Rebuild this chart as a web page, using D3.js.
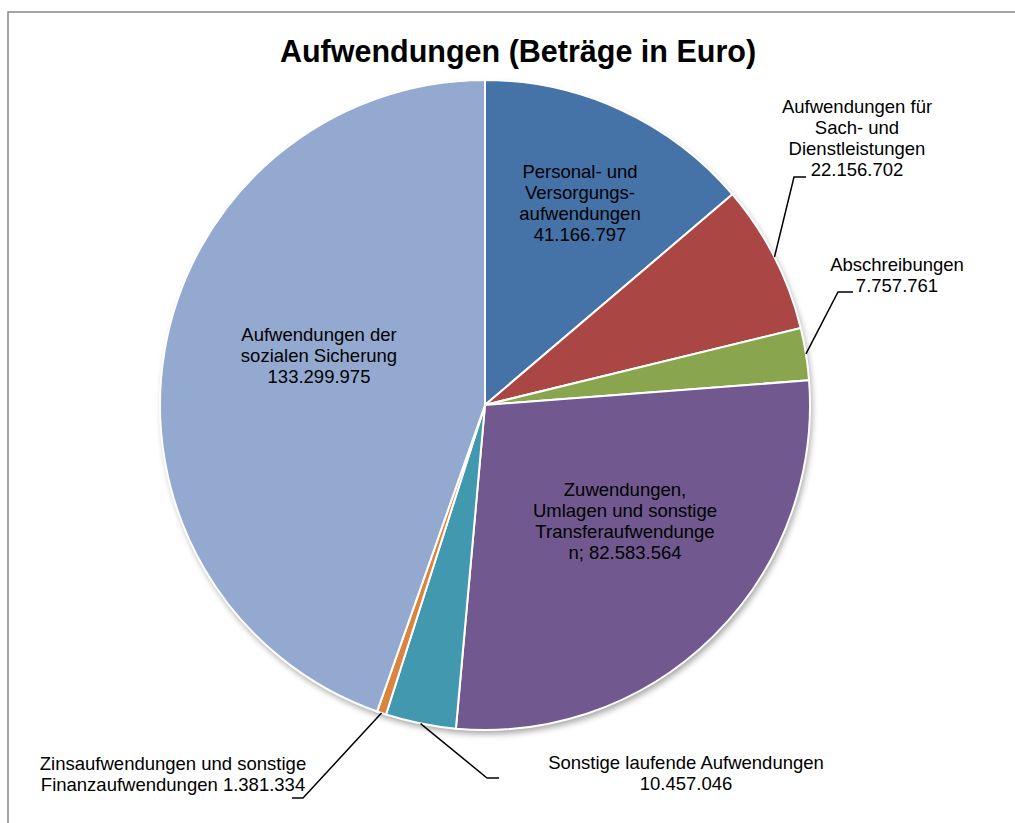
<!DOCTYPE html>
<html>
<head>
<meta charset="utf-8">
<script src="https://cdn.jsdelivr.net/npm/d3@7"></script>
<style>
  html, body { margin: 0; padding: 0; background: #fff; }
  svg { display: block; font-family: "Liberation Sans", Arial, sans-serif; }
</style>
</head>
<body>
<svg id="chart" width="1015" height="823"></svg>
<script>
// data
const categories = [
    "Personal- und Versorgungsaufwendungen",
    "Aufwendungen für Sach- und Dienstleistungen",
    "Abschreibungen",
    "Zuwendungen, Umlagen und sonstige Transferaufwendungen",
    "Sonstige laufende Aufwendungen",
    "Zinsaufwendungen und sonstige Finanzaufwendungen",
    "Aufwendungen der sozialen Sicherung"
];
const values = [41166797, 22156702, 7757761, 82583564, 10457046, 1381334, 133299975];
const labelLines = [
    ["Personal- und", "Versorgungs-", "aufwendungen", "41.166.797"],
    ["Aufwendungen für", "Sach- und", "Dienstleistungen", "22.156.702"],
    ["Abschreibungen", "7.757.761"],
    ["Zuwendungen,", "Umlagen und sonstige", "Transferaufwendunge", "n; 82.583.564"],
    ["Sonstige laufende Aufwendungen", "10.457.046"],
    ["Zinsaufwendungen und sonstige", "Finanzaufwendungen 1.381.334"],
    ["Aufwendungen der", "sozialen Sicherung", "133.299.975"]
];
const colors = ["#4572A7", "#AA4643", "#89A54E", "#71588F", "#4198AF", "#DB843D", "#93A9CF"];

// label layout, relative to pie center (outside labels get an elbow + end of leader)
const labelLayout = [
    {inside: true, dx: 95, dy: -201.5},
    {inside: false, dx: 372, dy: -266.5, elbow: [309, -228], end: [321, -228]},
    {inside: false, dx: 412, dy: -129.5, elbow: [353, -113], end: [368, -113]},
    {inside: true, dx: 140, dy: 116.5},
    {inside: false, dx: 201, dy: 368.5, elbow: [2, 373], end: [14, 373]},
    {inside: false, dx: -312, dy: 369.5, elbow: [-182, 393], end: [-193, 393]},
    {inside: true, dx: -166, dy: -49}
];

const W = 1015, H = 823;
const cx = 485, cy = 405, radius = 325;
const lineH = 21;

const svg = d3.select("#chart");

// shadow filter
const defs = svg.append("defs");
const f = defs.append("filter").attr("id", "pieShadow")
    .attr("x", "-10%").attr("y", "-10%").attr("width", "120%").attr("height", "120%");
f.append("feDropShadow")
    .attr("dx", 2).attr("dy", 4).attr("stdDeviation", 3)
    .attr("flood-color", "#000").attr("flood-opacity", 0.35);

// chart frame
svg.append("rect")
    .attr("x", 8).attr("y", 12)
    .attr("width", W + 20).attr("height", H + 20)
    .attr("fill", "#fff")
    .attr("stroke", "#868686").attr("stroke-width", 1.5);

// title
svg.append("text")
    .attr("x", 518).attr("y", 62)
    .attr("text-anchor", "middle")
    .style("font-weight", "bold")
    .style("font-size", "30.5px")
    .attr("fill", "#000")
    .text("Aufwendungen (Beträge in Euro)");

const pie = d3.pie().sort(null).value(d => d)(values);
const arc = d3.arc().innerRadius(0).outerRadius(radius);
const edgeArc = d3.arc().innerRadius(radius).outerRadius(radius);

const g = svg.append("g").attr("transform", `translate(${cx},${cy})`);

g.append("circle").attr("r", radius).attr("fill", "#fff").attr("filter", "url(#pieShadow)");

g.selectAll("path.slice")
    .data(pie)
    .join("path")
    .attr("class", "slice")
    .attr("d", arc)
    .attr("fill", (d, i) => colors[i])
    .attr("stroke", "#fff")
    .attr("stroke-width", 2)
    .attr("stroke-linejoin", "round")
    .append("title")
    .text((d, i) => `${categories[i]}: ${values[i]}`);

// leader lines
g.selectAll("path.leader")
    .data(pie.filter((d, i) => !labelLayout[i].inside))
    .join("path")
    .attr("class", "leader")
    .attr("fill", "none")
    .attr("stroke", "#000")
    .attr("stroke-width", 1.5)
    .attr("d", d => {
        const L = labelLayout[d.index];
        const p = edgeArc.centroid(d);
        return d3.line()([p, L.elbow, L.end]);
    });

// labels
const labels = g.selectAll("text.lbl")
    .data(pie)
    .join("text")
    .attr("class", "lbl")
    .attr("text-anchor", "middle")
    .style("font-size", "18.5px")
    .attr("fill", "#000")
    .attr("transform", (d, i) => {
        const L = labelLayout[i];
        const n = labelLines[i].length;
        const y0 = L.dy - (n - 1) * lineH / 2 + 6;
        return `translate(${L.dx},${y0})`;
    });

labels.selectAll("tspan")
    .data((d, i) => labelLines[i])
    .join("tspan")
    .attr("x", 0)
    .attr("y", (t, j) => j * lineH)
    .text(t => t);
</script>
</body>
</html>
